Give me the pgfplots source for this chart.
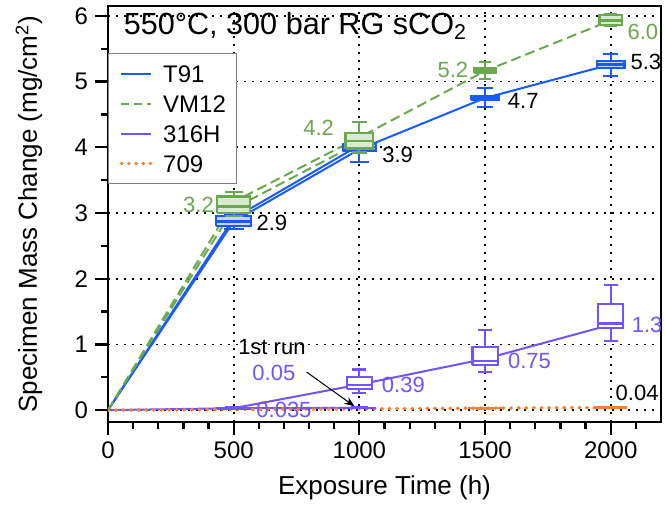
\documentclass[border=0pt]{standalone}
\usepackage{fontspec}
\setmainfont{Liberation Sans}
\usepackage{pgfplots}
\pgfplotsset{compat=1.18}
\usetikzlibrary{arrows.meta}
\definecolor{t91}{RGB}{25,90,250}
\definecolor{vm12}{RGB}{106,168,79}
\definecolor{h316}{RGB}{110,85,255}
\definecolor{a709}{RGB}{240,130,50}

% box: colour, fill, position, lower whisker, q1, median, q3, upper whisker, width
\newcommand{\bx}[9]{%
  \pgfmathsetmacro\xa{#3-#9/2}\pgfmathsetmacro\xb{#3+#9/2}%
  \pgfmathsetmacro\ca{#3-#9*0.28}\pgfmathsetmacro\cb{#3+#9*0.28}%
  \addplot[forget plot, solid, line width=1.1pt, draw=#1, fill=#2]
    coordinates {(\xa,#5) (\xb,#5) (\xb,#7) (\xa,#7) (\xa,#5)};
  \addplot[forget plot, solid, line width=1.1pt, draw=#1]
    coordinates {(\xa,#6) (\xb,#6)};
  \addplot[forget plot, solid, line width=1.1pt, draw=#1]
    coordinates {(#3,#4) (#3,#5)};
  \addplot[forget plot, solid, line width=1.1pt, draw=#1]
    coordinates {(#3,#7) (#3,#8)};
  \addplot[forget plot, solid, line width=1.1pt, draw=#1]
    coordinates {(\ca,#4) (\cb,#4)};
  \addplot[forget plot, solid, line width=1.1pt, draw=#1]
    coordinates {(\ca,#8) (\cb,#8)};
}

\begin{document}
\begin{tikzpicture}
\useasboundingbox (-54pt,-42pt) rectangle (278.5pt,211pt);
\begin{axis}[
  scale only axis, width=276.5pt, height=208pt,
  xmin=0, xmax=2200, ymin=-0.18, ymax=6.15,
  xtick={0,500,1000,1500,2000},
  ytick={0,1,2,3,4,5,6},
  extra x ticks={100,200,300,400,600,700,800,900,1100,1200,1300,1400,1600,1700,1800,1900,2100},
  extra y ticks={0.5,1.5,2.5,3.5,4.5,5.5},
  extra x tick labels={}, extra y tick labels={},
  extra tick style={major tick length=3.5pt, grid=none},
  tick align=outside, tick pos=left,
  major tick length=6.5pt,
  every tick/.append style={black, line width=1.1pt},
  axis line style={line width=1.2pt},
  grid=major,
  major grid style={black, line width=0.9pt, dash pattern=on 0.9pt off 3.1pt},
  ticklabel style={font=\fontsize{12}{14}\selectfont},
  /pgf/number format/assume math mode=true,
  /pgf/number format/1000 sep={},
  label style={font=\fontsize{13}{15}\selectfont},
  xlabel={Exposure Time (h)},
  ylabel={Specimen Mass Change (mg/cm\textsuperscript{2})},
  xlabel style={at={(axis description cs:0.5,-0.1587)}, anchor=center},
  ylabel style={at={(axis description cs:-0.1429,0.5)}, anchor=center},
  legend style={at={(axis description cs:0,0.887)}, anchor=north west,
    draw=gray, line width=0.6pt, fill=white,
    font=\fontsize{12}{14}\selectfont,
    inner xsep=5.5pt, inner ysep=5.7pt, row sep=6.4pt, column sep=5pt,
    nodes={inner sep=0pt, text height=8.6pt, text depth=0pt}},
  legend cell align=left,
  legend image code/.code={\draw[#1] (0pt,0pt) -- (15pt,0pt);},
]
\addlegendimage{t91, line width=1pt}
\addlegendimage{vm12, line width=1pt, dash pattern=on 4pt off 2.5pt}
\addlegendimage{h316, line width=1pt}
\addlegendimage{a709, line width=1.8pt, line cap=round, dash pattern=on 0.3pt off 3.3pt}
\legend{T91,VM12,316H,709}

% T91
\addplot[forget plot, t91, line width=1pt]
  coordinates {(0,0) (500,2.87) (1000,3.97) (1500,4.75) (2000,5.26)};
\addplot[forget plot, t91, line width=1pt]
  coordinates {(0,0) (500,2.92) (1000,4.03)};
% VM12
\addplot[forget plot, vm12, line width=1pt, dash pattern=on 5pt off 2.5pt]
  coordinates {(0,0) (500,3.17) (1000,4.15) (1500,5.16) (2000,5.93)};
\addplot[forget plot, vm12, line width=1pt, dash pattern=on 5pt off 2.5pt]
  coordinates {(0,0) (500,3.07) (1000,4.07)};
% 316H
\addplot[forget plot, h316, line width=1pt]
  coordinates {(0,0) (500,0.03) (1000,0.39) (1500,0.78) (2000,1.3)};
\addplot[forget plot, h316, line width=1pt]
  coordinates {(500,0.03) (1000,0.035)};
% 709
\addplot[forget plot, a709, line width=1.8pt, line cap=round, dash pattern=on 0.3pt off 3.5pt]
  coordinates {(0,0) (500,0.01) (1000,0.02) (1500,0.03) (2000,0.04)};

% boxes T91
\bx{t91}{t91!25}{500}{2.76}{2.80}{2.87}{2.95}{2.98}{140}
\bx{t91}{t91!25}{1000}{3.78}{3.95}{4.00}{4.05}{4.08}{130}
\bx{t91}{t91!25}{1500}{4.61}{4.72}{4.75}{4.78}{4.90}{110}
\bx{t91}{t91!25}{2000}{5.08}{5.21}{5.26}{5.31}{5.42}{110}
% boxes VM12
\bx{vm12}{vm12!25}{500}{2.95}{3.00}{3.10}{3.25}{3.32}{130}
\bx{vm12}{vm12!25}{1000}{3.92}{3.98}{4.10}{4.22}{4.38}{110}
\bx{vm12}{vm12!25}{1500}{5.04}{5.13}{5.16}{5.20}{5.30}{90}
\bx{vm12}{vm12!25}{2000}{5.85}{5.86}{5.93}{6.01}{6.02}{90}
% boxes 316H
\bx{h316}{white}{500}{0.02}{0.025}{0.03}{0.035}{0.04}{130}
\bx{h316}{white}{1000}{0.03}{0.032}{0.035}{0.038}{0.04}{120}
\bx{h316}{white}{1000}{0.26}{0.32}{0.38}{0.50}{0.62}{100}
\bx{h316}{white}{1500}{0.58}{0.69}{0.75}{0.96}{1.22}{100}
\bx{h316}{white}{2000}{1.05}{1.25}{1.32}{1.61}{1.90}{100}
% boxes 709
\bx{a709}{a709}{1500}{0.025}{0.028}{0.03}{0.032}{0.035}{130}
\bx{a709}{a709}{2000}{0.035}{0.038}{0.04}{0.042}{0.045}{120}

% labels
\begin{scope}[font=\fontsize{11}{13}\selectfont]
\node[vm12] at (axis cs:360,3.12) {3.2};
\node at (axis cs:652,2.85) {2.9};
\node[vm12] at (axis cs:838,4.29) {4.2};
\node at (axis cs:1152,3.88) {3.9};
\node[vm12] at (axis cs:1372,5.17) {5.2};
\node at (axis cs:1652,4.70) {4.7};
\node[vm12] at (axis cs:2128,5.75) {6.0};
\node at (axis cs:2140,5.30) {5.3};
\node[h316] at (axis cs:2145,1.29) {1.3};
\node[h316] at (axis cs:1677,0.75) {0.75};
\node[h316] at (axis cs:1175,0.38) {0.39};
\node[h316] at (axis cs:660,0.56) {0.05};
\node[h316] at (axis cs:700,0.0) {0.035};
\node at (axis cs:2105,0.26) {0.04};
\node at (axis cs:652,0.96) {1st run};
\end{scope}
\draw[line width=0.5pt, -{Stealth[length=5pt,width=4pt]}] (axis cs:790,0.58) -- (axis cs:980,0.06);
\node[anchor=west, font=\fontsize{15.3}{18}\selectfont] at (axis cs:35,5.84) {550°C, 300 bar RG sCO\textsubscript{2}};
\end{axis}
\end{tikzpicture}
\end{document}
